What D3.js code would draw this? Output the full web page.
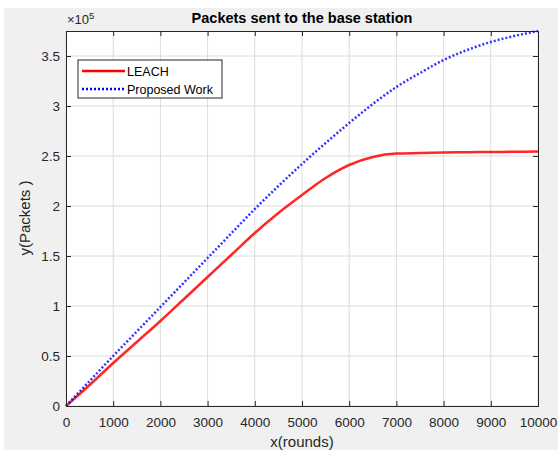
<!DOCTYPE html>
<html><head><meta charset="utf-8">
<script src="https://cdn.jsdelivr.net/npm/d3@7"></script>
<style>body{margin:0;background:#fff}svg{display:block;font-family:"Liberation Sans",Arial,sans-serif}</style>
</head><body><svg id="c" width="558" height="450"></svg>
<script>
const rounds = [0,500,1000,1500,2000,2500,3000,3500,4000,4500,5000,5500,6000,6500,7000,7500,8000,8500,9000,9500,10000];
const leach = [0,0.21,0.43,0.64,0.85,1.07,1.29,1.51,1.73,1.93,2.11,2.28,2.41,2.49,2.525,2.53,2.535,2.538,2.54,2.542,2.545].map(v=>v*1e5);
const proposed = [0,0.25,0.5,0.745,0.99,1.235,1.48,1.725,1.97,2.2,2.42,2.63,2.83,3.02,3.19,3.33,3.46,3.56,3.64,3.70,3.75].map(v=>v*1e5);
const xTicks = [0,1000,2000,3000,4000,5000,6000,7000,8000,9000,10000];
const yTicks = [0,0.5,1,1.5,2,2.5,3,3.5].map(v=>v*1e5);
const yTickLabels = ["0","0.5","1","1.5","2","2.5","3","3.5"];
const seriesNames = ["LEACH","Proposed Work"];

const svg = d3.select("#c");
svg.append("rect").attr("x",4).attr("y",8).attr("width",554).attr("height",442).attr("fill","#f0f0f0");
const L=66,R=538,T=31,B=406;
const x = d3.scaleLinear().domain([0,10000]).range([L,R]);
const y = d3.scaleLinear().domain([0,3.75e5]).range([B,T]);
svg.append("rect").attr("x",L).attr("y",T).attr("width",R-L).attr("height",B-T).attr("fill","#fff");
// grid
const g = svg.append("g");
g.selectAll(".gx").data(xTicks).join("line").attr("x1",d=>x(d)).attr("x2",d=>x(d)).attr("y1",T).attr("y2",B).attr("stroke","#dcdcdc").attr("stroke-width",1);
g.selectAll(".gy").data(yTicks).join("line").attr("y1",d=>y(d)).attr("y2",d=>y(d)).attr("x1",L).attr("x2",R).attr("stroke","#dcdcdc").attr("stroke-width",1);
// lines
const line = (arr)=>d3.line().x((d,i)=>x(rounds[i])).y((d)=>y(d)).curve(d3.curveMonotoneX)(arr);
svg.append("path").attr("d",line(leach)).attr("fill","none").attr("stroke","#ff0000").attr("stroke-width",2.5).attr("opacity",0.85);
svg.append("path").attr("d",line(proposed)).attr("fill","none").attr("stroke","#0000ff").attr("stroke-width",2.5).attr("stroke-dasharray","2,2").attr("opacity",0.8);
// axes
const ax = svg.append("g").attr("transform",`translate(0,${B})`).call(d3.axisBottom(x).tickValues(xTicks).tickSize(-5).tickPadding(11).tickFormat(d3.format("d")));
const axT = svg.append("g").attr("transform",`translate(0,${T})`).call(d3.axisTop(x).tickValues(xTicks).tickSize(-5).tickFormat(""));
const ay = svg.append("g").attr("transform",`translate(${L},0)`).call(d3.axisLeft(y).tickValues(yTicks).tickSize(-5).tickPadding(6).tickFormat((d,i)=>yTickLabels[i]));
const ayR = svg.append("g").attr("transform",`translate(${R},0)`).call(d3.axisRight(y).tickValues(yTicks).tickSize(-5).tickFormat(""));
[ax,axT,ay,ayR].forEach(a=>{a.select(".domain").attr("stroke","#262626");a.selectAll(".tick line").attr("stroke","#262626");a.selectAll("text").attr("fill","#262626").style("font-size","13.5px").style("font-family","'Liberation Sans',Arial,sans-serif");});
// exponent
const ex = svg.append("text").attr("x",67).attr("y",24).attr("fill","#262626").style("font-size","13px");
ex.append("tspan").text("×10");
ex.append("tspan").attr("dy",-5).style("font-size","9.5px").text("5");
// title
svg.append("text").attr("x",302).attr("y",23).attr("text-anchor","middle").attr("font-weight","bold").style("font-size","14.5px").attr("fill","#000").text("Packets sent to the base station");
svg.append("text").attr("x",302).attr("y",447).attr("text-anchor","middle").style("font-size","15px").attr("fill","#262626").text("x(rounds)");
svg.append("text").attr("transform","translate(30,218) rotate(-90)").attr("text-anchor","middle").style("font-size","15px").attr("fill","#262626").text("y(Packets )");
// legend
const lg = svg.append("g");
lg.append("rect").attr("x",78).attr("y",60).attr("width",144).attr("height",38).attr("fill","#fff").attr("stroke","#262626").attr("stroke-width",1);
const items=[{c:"#ff0000",d:null},{c:"#0000ff",d:"2,2"}];
seriesNames.forEach((n,i)=>{
  const yy=71+i*18;
  const l=lg.append("line").attr("x1",82).attr("x2",125).attr("y1",yy).attr("y2",yy).attr("stroke",items[i].c).attr("stroke-width",2.5);
  if(items[i].d) l.attr("stroke-dasharray",items[i].d);
  lg.append("text").attr("x",127).attr("y",yy+4.5).style("font-size","12.5px").attr("fill","#000").text(n);
});
</script></body></html>
